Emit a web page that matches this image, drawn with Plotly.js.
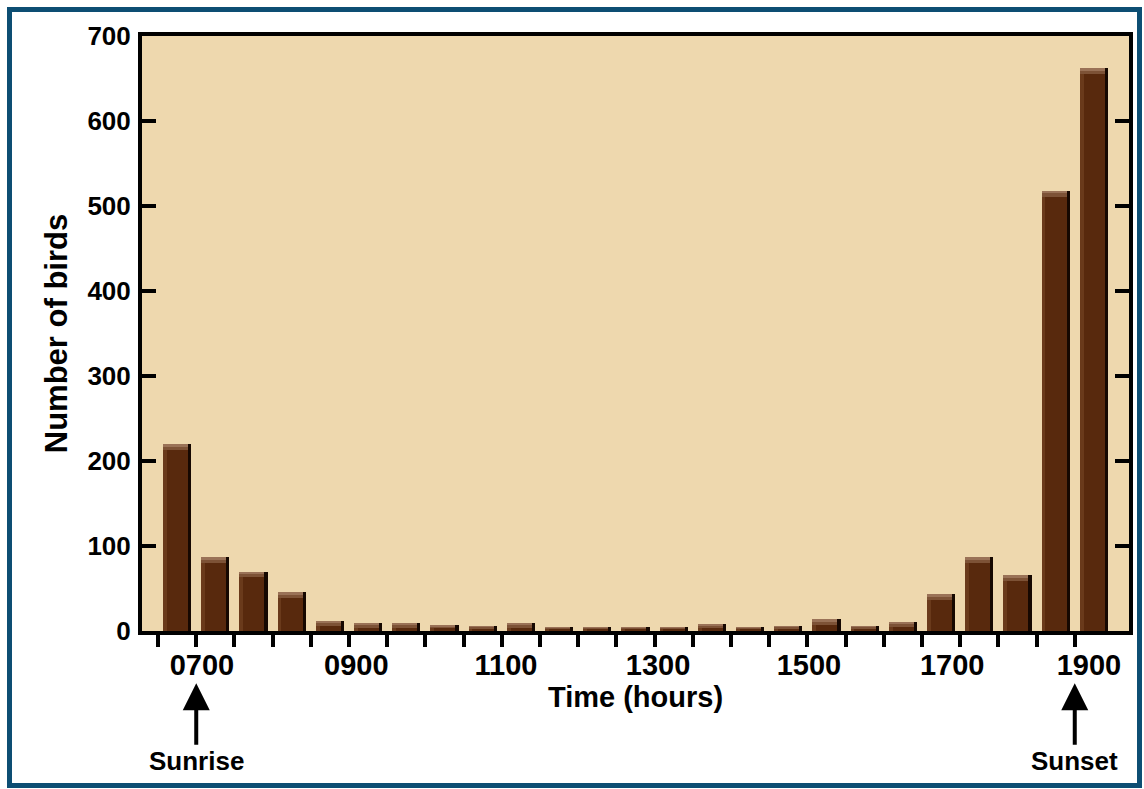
<!DOCTYPE html>
<html>
<head>
<meta charset="utf-8">
<script src="https://cdn.plot.ly/plotly-3.0.1.min.js"></script>
<style>
  html, body { margin: 0; padding: 0; background: #ffffff; }
  #wrap { position: relative; width: 1144px; height: 789px; }
  #chart { position: absolute; left: 0; top: 0; width: 1144px; height: 789px; }
  #frame { position: absolute; left: 7px; top: 7px; width: 1125px; height: 771px;
           border: 5px solid #0d4e73; pointer-events: none; }
</style>
</head>
<body>
<div id="wrap">
  <div id="chart"></div>
  <div id="frame"></div>
</div>
<script>
// Half-hour counting intervals (index of each bar, left to right)
const intervals = ['0630','0700','0730','0800','0830','0900','0930','1000','1030','1100',
                   '1130','1200','1230','1300','1330','1400','1430','1500','1530','1600',
                   '1630','1700','1730','1800','1900'];
// Number of birds in each interval
const birds = [220, 87, 70, 46, 12, 9, 9, 7, 6, 9,
               5, 5, 5, 5, 8, 5, 6, 14, 6, 11,
               43, 87, 66, 518, 662];
// Hour labels on the time axis and where they sit (in bar-index units)
const hourLabels = ['0700','0900','1100','1300','1500','1700','1900'];
const hourLabelAt = [0.65, 4.69, 8.61, 12.59, 16.54, 20.29, 23.87];
// Marker labels
const markerText = ['Sunrise', 'Sunset'];
const markerAt = [0.5, 23.5];

const idx = intervals.map((_, i) => i);
const boundaries = intervals.map((_, i) => i - 0.5);

const W = 0.74, BODY = 0.655;
const capH = birds.map(v => Math.min(7, v * 0.55));
const capBase = birds.map((v, i) => v - capH[i]);
const capH2 = capH.map(c => c * 0.45);
const capBase2 = birds.map((v, i) => v - capH2[i]);

const common = { type: 'bar', x: idx, hoverinfo: 'skip', showlegend: false };
const traces = [
  Object.assign({}, common, { y: birds, width: W, offset: -W / 2,
    marker: { color: '#160801', line: { width: 0 } } }),
  Object.assign({}, common, { y: birds, width: BODY, offset: -W / 2,
    marker: { color: '#58290d', line: { width: 0 } } }),
  Object.assign({}, common, { y: birds, width: 0.1, offset: -W / 2,
    marker: { color: '#6a3a1b', line: { width: 0 } } }),
  Object.assign({}, common, { y: capH, base: capBase, width: BODY, offset: -W / 2,
    marker: { color: '#7d5236', line: { width: 0 } } }),
  Object.assign({}, common, { y: capH2, base: capBase2, width: BODY, offset: -W / 2,
    marker: { color: '#9a7257', line: { width: 0 } } }),
  { type: 'scatter', x: [], y: [], xaxis: 'x2', yaxis: 'y', showlegend: false, hoverinfo: 'skip' }
];

const FAM = 'Liberation Sans, Arial, sans-serif';
const tickFontX = { family: FAM, size: 29, color: '#000', weight: 700 };
const tickFontY = { family: FAM, size: 26, color: '#000', weight: 700 };
const range = [-0.92, 24.92];

const annotations = markerText.map((t, k) => ({
  x: markerAt[k], xref: 'x', y: -0.088, yref: 'paper',
  text: t, showarrow: true, ax: 0, ay: 78,
  arrowhead: 2, arrowsize: 1.35, arrowwidth: 4, arrowcolor: '#000',
  font: { family: FAM, size: 26, color: '#000', weight: 700 }
}));

const layout = {
  width: 1144, height: 789,
  margin: { l: 142, r: 15, t: 36, b: 158 },
  paper_bgcolor: '#ffffff',
  plot_bgcolor: '#eed8ae',
  barmode: 'overlay',
  bargap: 0,
  xaxis: {
    range: range, tickmode: 'array', tickvals: boundaries, showticklabels: false,
    ticks: 'outside', ticklen: 12, tickwidth: 4, tickcolor: '#000',
    showline: true, linewidth: 4, linecolor: '#000', mirror: true,
    showgrid: false, zeroline: false, fixedrange: true
  },
  xaxis2: {
    overlaying: 'x', anchor: 'y', side: 'bottom', range: range,
    tickmode: 'array', tickvals: hourLabelAt, ticktext: hourLabels,
    ticks: '', showline: false, showgrid: false, zeroline: false,
    tickfont: tickFontX, ticklabelstandoff: 14,
    title: { text: 'Time (hours)', font: { family: FAM, size: 29, color: '#000', weight: 700 }, standoff: 0 }
  },
  yaxis: {
    range: [0, 700], tickmode: 'linear', tick0: 0, dtick: 100,
    ticks: 'inside', ticklen: 14, tickwidth: 4, tickcolor: '#000',
    showline: true, linewidth: 4, linecolor: '#000', mirror: 'ticks',
    showgrid: false, zeroline: false, tickfont: tickFontY, ticklabelstandoff: 2,
    title: { text: 'Number of birds', font: { family: FAM, size: 31, color: '#000', weight: 700 }, standoff: 12 },
    fixedrange: true
  },
  annotations: annotations,
  showlegend: false
};

Plotly.newPlot('chart', traces, layout, { displayModeBar: false, staticPlot: true });
</script>
</body>
</html>
